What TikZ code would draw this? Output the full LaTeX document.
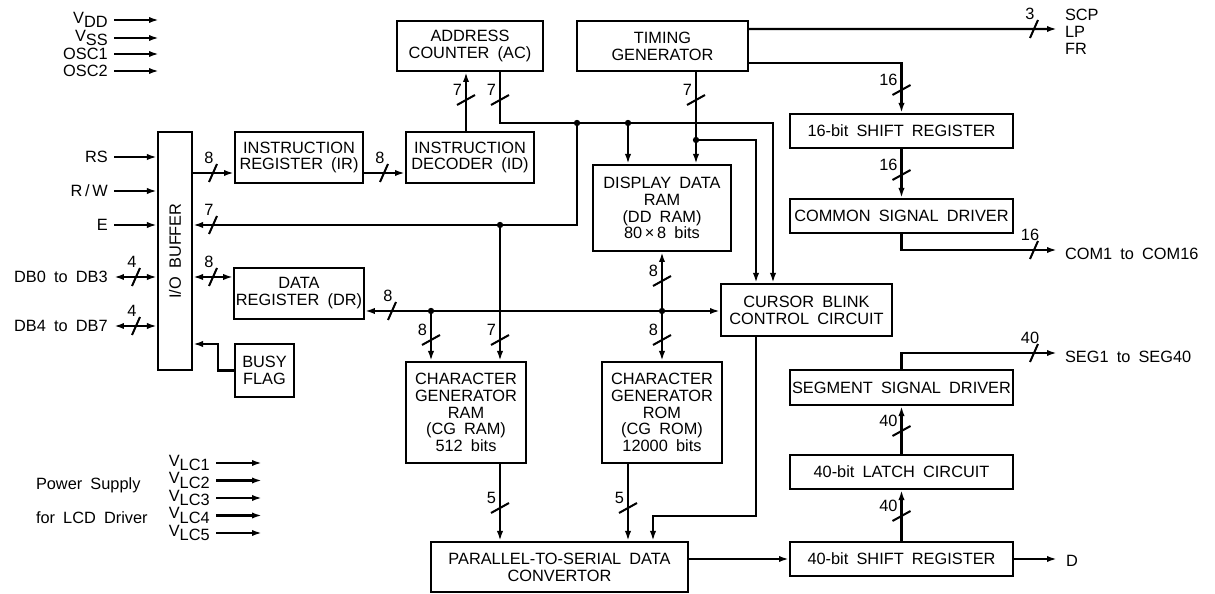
\documentclass[tikz,border=0pt]{standalone}
\usepackage{fontspec}
\setmainfont{Liberation Sans}[WordSpace=1.8]
\usetikzlibrary{positioning,arrows.meta}
\newcommand{\lowsub}[2]{#1\raisebox{-2.6pt}{#2}}

\begin{document}
\begin{tikzpicture}[x=0.02cm, y=-0.02cm, line width=1.15pt,
  font=\fontsize{9.3}{9.6}\selectfont,
  box/.style={draw, align=center, inner sep=1pt, minimum width=#1, minimum height=1.02cm},
  box/.default=2.56cm,
  bar/.style={draw, align=center, inner sep=1pt, minimum width=4.46cm, minimum height=0.68cm},
  dot/.style={circle, fill, inner sep=0pt, minimum size=3.6pt},
  inlbl/.style={anchor=east, inner sep=3pt},
  outlbl/.style={anchor=base west, inner sep=0pt},
  hbus/.pic={\draw (-4,9) -- (4,-9);
    \node[anchor=base, inner sep=0pt] at (-4,-9) {#1};},
  vbus/.pic={\draw (-9,5) -- (9,-5);
    \node[anchor=base east, inner sep=0pt] at (-3,-4) {#1};},
  >={Latex[length=2mm, width=1.25mm]}]
  \useasboundingbox (0,0) rectangle (1215,594);
  % control side
  \node[draw, minimum width=0.68cm, minimum height=4.76cm] (iob) at (175,251) {};
  \node[rotate=90] (ioblbl) at (iob) {I/O BUFFER};
  \node[box] (ir) at (299,157.5) {INSTRUCTION\\REGISTER (IR)};
  \node[box] (id) at (470,157.5) {INSTRUCTION\\DECODER (ID)};
  \node[box=2.92cm, minimum height=1cm] (ac) at (470,46) {ADDRESS\\COUNTER (AC)};
  \node[box=3.42cm, minimum height=1cm] (tg) at (662.5,46) {TIMING\\GENERATOR};
  \node[box] (dr) at (299,293.5) {DATA\\REGISTER (DR)};
  \node[box=1.18cm, minimum height=1.06cm] (busy) at (264.5,370.5) {BUSY\\FLAG};
  % memories
  \node[box=2.76cm, minimum height=1.72cm] (ddram) at (662,208) {DISPLAY DATA\\RAM\\(DD RAM)\\80\,×\,8 bits};
  \node[box=2.4cm, minimum height=2.02cm] (cgram) at (466,412.5) {CHARACTER\\GENERATOR\\RAM\\(CG RAM)\\512 bits};
  \node[box=2.4cm, minimum height=2.02cm] (cgrom) at (662,412.5) {CHARACTER\\GENERATOR\\ROM\\(CG ROM)\\12000 bits};
  \node[box=3.42cm, minimum height=1.04cm] (cbc) at (806.5,310) {CURSOR BLINK\\CONTROL CIRCUIT};
  \node[box=5.14cm, minimum height=1cm] (psc) at (559.5,567) {PARALLEL-TO-SERIAL DATA\\CONVERTOR};
  % drivers
  \node[bar] (sr16) at (901.5,131) {16-bit SHIFT REGISTER};
  \node[bar] (csd) at (901.5,216) {COMMON SIGNAL DRIVER};
  \node[bar, minimum height=0.7cm] (ssd) at (901.5,387.5) {SEGMENT SIGNAL DRIVER};
  \node[bar] (latch) at (901.5,472) {40-bit LATCH CIRCUIT};
  \node[bar] (sr40) at (901.5,559) {40-bit SHIFT REGISTER};
  % bus junctions and bends
  \coordinate (d1) at (577,123);
  \coordinate (d2) at (628,123);
  \coordinate (d3) at (696,140);
  \coordinate (d4) at (500,225);
  \coordinate (d5) at (431,311);
  \coordinate (d6) at (662,311);
  \coordinate (yir) at (200,173);
  \coordinate (ydr) at (200,277);
  \coordinate (bk) at (218,344);
  \coordinate (kink) at (653,516);
  \coordinate (idout) at ([xshift=-0.08cm]id.north);
  \coordinate (acout) at ([xshift=0.6cm]ac.south);
  \coordinate (tgout) at ([xshift=0.67cm]tg.south);
  \coordinate (cbin1) at ([xshift=-1.01cm]cbc.north);
  \coordinate (cbin2) at ([xshift=-0.67cm]cbc.north);
  \coordinate (tgo1) at ([yshift=0.34cm]tg.east);
  \coordinate (tgo2) at ([yshift=-0.34cm]tg.east);
  \coordinate (sigout) at (1057,29);
  \coordinate (comout) at (1057,250);
  \coordinate (segout) at (1057,353);
  \coordinate (dout) at (1057,559);
  % inputs
  \foreach \n/\y/\t in {vdd/20/\lowsub{V}{DD}, vss/38/\lowsub{V}{SS}, osc1/54/OSC1, osc2/71/OSC2} {
    \node[inlbl] (\n) at (114,\y) {\t};
    \coordinate (\n-end) at (159,\y);
    \draw[->] (\n) -- (\n-end);
  }
  \foreach \n/\y/\t in {rs/157/RS, rw/191/{R\,/\,W}, e/225/E} {
    \node[inlbl] (\n) at (114,\y) {\t};
    \draw[->] (\n) -- (\n -| iob.west);
  }
  \node[inlbl] (db0) at (114,277) {DB0 to DB3};
  \node[inlbl] (db4) at (114,326) {DB4 to DB7};
  \draw[<->] (db0) -- (db0 -| iob.west);
  \draw[<->] (db4) -- (db4 -| iob.west);
  \foreach \i/\y in {1/463,2/480.5,3/498,4/515.5,5/533} {
    \node[inlbl] (vlc\i) at (216,\y) {\lowsub{V}{LC\i}};
    \coordinate (vlc\i-end) at (262,\y);
    \draw[->] (vlc\i) -- (vlc\i-end);
  }
  \node[outlbl] (ps1) at (35,490) {Power Supply};
  \node[outlbl] (ps2) at (35,523.5) {for LCD Driver};
  % outputs
  \foreach \n/\y in {SCP/20.7, LP/37.4, FR/55} \node[outlbl] (\n) at (1064,\y) {\n};
  \node[outlbl] (com) at (1064,259.7) {COM1 to COM16};
  \node[outlbl] (seg) at (1064,362.7) {SEG1 to SEG40};
  \node[outlbl] (d) at (1065,566.7) {D};
  % connections
  \draw[->] (iob.east |- yir) -- (ir.west |- yir);
  \draw[->] (ir.east |- yir) -- (id.west |- yir);
  \draw[->] (idout) -- (idout |- ac.south);
  \draw[->] (acout) |- (cbin2 |- d1) -- (cbin2);
  \draw[->] (d2) -- (d2 |- ddram.north);
  \draw[->] (tgout) -- (tgout |- ddram.north);
  \draw[->] (d3) -| (cbin1);
  \draw[->] (d1) |- (iob.east |- d4);
  \draw[->] (d4) -- (d4 |- cgram.north);
  \draw[<->] (dr.east |- d5) -- (cbc.west |- d5);
  \draw[->] (d5) -- (d5 |- cgram.north);
  \draw[->] (d6) -- (d6 |- ddram.south);
  \draw[->] (d6) -- (d6 |- cgrom.north);
  \draw[->] (d4 |- cgram.south) -- (d4 |- psc.north);
  \draw[->] (d2 |- cgrom.south) -- (d2 |- psc.north);
  \draw[->] (cbin1 |- cbc.south) |- (kink) -- (kink |- psc.north);
  \draw[<->] (iob.east |- ydr) -- (dr.west |- ydr);
  \draw[->] (busy.west) -| (bk) -- (iob.east |- bk);
  \draw[->] (psc.east |- sr40) -- (sr40.west);
  \draw[->] (sr40.east) -- (dout);
  \draw[->] (sr40) -- (latch);
  \draw[->] (latch) -- (ssd);
  \draw[->] (ssd.north) |- (segout);
  \draw[->] (tgo1) -- (sigout);
  \draw[->] (tgo2) -| (sr16.north);
  \draw[->] (sr16) -- (csd);
  \draw[->] (csd.south) |- (comout);
  \foreach \j in {d1,d2,d3,d4,d5,d6} \node[dot] (\j-dot) at (\j) {};
  % bus widths
  \pic at (136,277) {hbus=4};
  \pic at (136,326) {hbus=4};
  \pic at (213,173) {hbus=8};
  \pic at (384,173) {hbus=8};
  \pic at (213,225) {hbus=7};
  \pic at (213,277) {hbus=8};
  \pic at (392,311) {hbus=8};
  \pic at (466,100) {vbus=7};
  \pic at (500,100) {vbus=7};
  \pic at (696,100) {vbus=7};
  \pic at (431,340) {vbus=8};
  \pic at (500,340) {vbus=7};
  \pic at (662,281) {vbus=8};
  \pic at (662,340) {vbus=8};
  \pic at (500,508) {vbus=5};
  \pic at (628,508) {vbus=5};
  \pic at (1034,29) {hbus=3};
  \pic at (901.5,90) {vbus=16};
  \pic at (901.5,175) {vbus=16};
  \pic at (1034,250) {hbus=16};
  \pic at (1034,353) {hbus=40};
  \pic at (901.5,431) {vbus=40};
  \pic at (901.5,516) {vbus=40};
\end{tikzpicture}
\end{document}
